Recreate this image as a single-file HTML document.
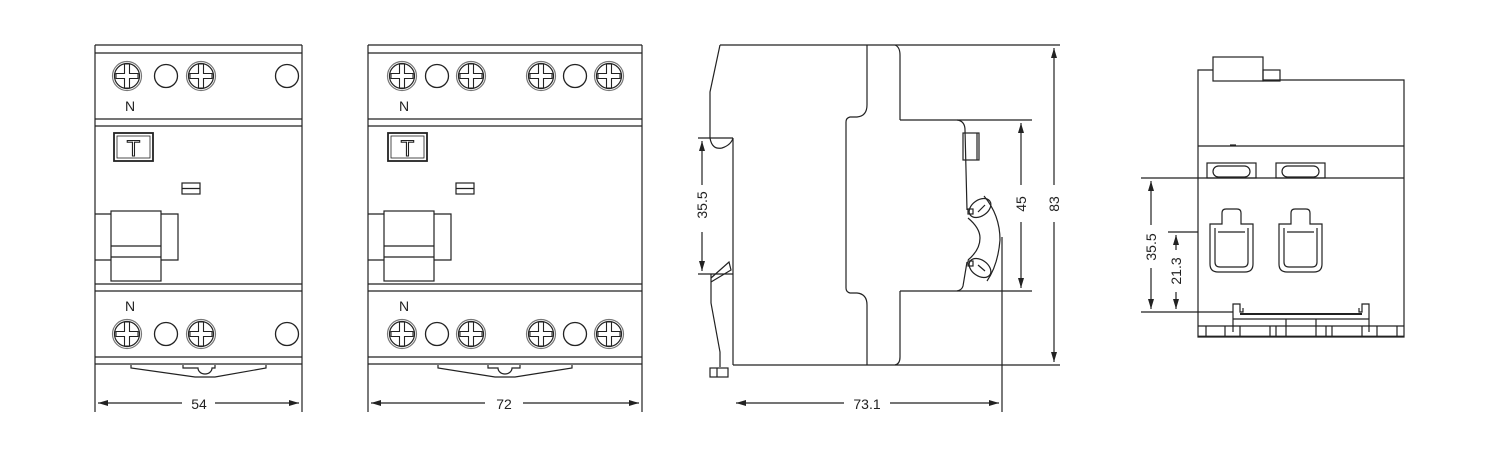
<!DOCTYPE html>
<html><head><meta charset="utf-8"><style>
html,body{margin:0;padding:0;background:#fff;}
svg{display:block;}
text{font-family:"Liberation Sans","DejaVu Sans",sans-serif;fill:#222;}
</style></head><body>
<svg width="1500" height="465" viewBox="0 0 1500 465" xmlns="http://www.w3.org/2000/svg">
<defs>
<g id="sc">
 <circle r="14.5" fill="none" stroke="#777" stroke-width="1.2"/>
 <circle r="12.5" fill="none" stroke="#222" stroke-width="1.2"/>
 <path d="M-2.5,-12 L2.5,-12 L2.5,-2.5 L11,-2.5 L11,2.5 L2.5,2.5 L2.5,12 L-2.5,12 L-2.5,2.5 L-11,2.5 L-11,-2.5 L-2.5,-2.5 Z" fill="#fff" stroke="#222" stroke-width="1.1"/>
</g>
<g id="pc"><circle r="11.5" fill="none" stroke="#222" stroke-width="1.3"/></g>
<marker id="ar" viewBox="0 0 10 6" refX="10" refY="3" markerWidth="10" markerHeight="6" orient="auto-start-reverse" markerUnits="userSpaceOnUse"><path d="M0,0 L10,3 L0,6 Z" fill="#222"/></marker>
</defs>
<g fill="none" stroke="#222" stroke-width="1.2">
<!-- FRONT VIEW 1 -->
<line x1="95" y1="45" x2="302" y2="45"/>
<line x1="95" y1="53" x2="302" y2="53"/>
<line x1="95" y1="45" x2="95" y2="412"/>
<line x1="302" y1="45" x2="302" y2="412"/>
<line x1="95" y1="119" x2="302" y2="119"/>
<line x1="95" y1="126" x2="302" y2="126"/>
<line x1="95" y1="284" x2="302" y2="284"/>
<line x1="95" y1="291" x2="302" y2="291"/>
<line x1="95" y1="357" x2="302" y2="357"/>
<line x1="95" y1="364" x2="302" y2="364"/>
<rect x="114" y="133" width="39" height="28" stroke-width="1.8"/>
<rect x="117" y="136" width="33" height="22" stroke-width="0.8"/>
<rect x="182" y="183" width="18" height="11"/>
<line x1="182" y1="188.5" x2="200" y2="188.5"/>
<polyline points="95,214 178,214 178,260 95,260"/>
<rect x="111" y="211" width="50" height="70" fill="#fff"/>
<line x1="111" y1="246" x2="161" y2="246"/>
<line x1="111" y1="257" x2="161" y2="257"/>
<polyline points="131,365 131,368 195,377 215,377 266,368 266,365"/>
<path d="M183,365 L183,368 L198,368 A7,6 0 0 0 212,368 L215,368 L215,365"/>
<line x1="98" y1="403" x2="182" y2="403" marker-start="url(#ar)"/>
<line x1="215" y1="403" x2="299" y2="403" marker-end="url(#ar)"/>

<!-- FRONT VIEW 2 -->
<line x1="368" y1="45" x2="642" y2="45"/>
<line x1="368" y1="53" x2="642" y2="53"/>
<line x1="368" y1="45" x2="368" y2="412"/>
<line x1="642" y1="45" x2="642" y2="412"/>
<line x1="368" y1="119" x2="642" y2="119"/>
<line x1="368" y1="126" x2="642" y2="126"/>
<line x1="368" y1="284" x2="642" y2="284"/>
<line x1="368" y1="291" x2="642" y2="291"/>
<line x1="368" y1="357" x2="642" y2="357"/>
<line x1="368" y1="364" x2="642" y2="364"/>
<rect x="388" y="133" width="39" height="28" stroke-width="1.8"/>
<rect x="391" y="136" width="33" height="22" stroke-width="0.8"/>
<rect x="456" y="183" width="18" height="11"/>
<line x1="456" y1="188.5" x2="474" y2="188.5"/>
<polyline points="368,214 451,214 451,260 368,260"/>
<rect x="384" y="211" width="50" height="70" fill="#fff"/>
<line x1="384" y1="246" x2="434" y2="246"/>
<line x1="384" y1="257" x2="434" y2="257"/>
<polyline points="438,365 438,368 495,377 515,377 572,368 572,365"/>
<path d="M488,365 L488,368 L498,368 A7,6 0 0 0 512,368 L520,368 L520,365"/>
<line x1="371" y1="403" x2="485" y2="403" marker-start="url(#ar)"/>
<line x1="523" y1="403" x2="639" y2="403" marker-end="url(#ar)"/>

<!-- SIDE VIEW -->
<line x1="720" y1="45" x2="1060" y2="45"/>
<polyline points="720,45 710,92 710,138"/>
<path d="M710,138 Q712,150 722,148 Q731,145 733,138"/>
<line x1="698" y1="138" x2="733" y2="138"/>
<line x1="733" y1="138" x2="733" y2="365"/>
<line x1="698" y1="274" x2="733" y2="274"/>
<polyline points="711,278 729,262 731,270 711,282"/>
<polyline points="711,274 711,303 720,352 720,367"/>
<rect x="710" y="368" width="18" height="9"/>
<line x1="717" y1="368" x2="717" y2="377"/>
<line x1="733" y1="365" x2="1060" y2="365"/>
<line x1="867" y1="45" x2="867" y2="105"/>
<path d="M867,105 Q867,116 857,117 L850,117 Q846,118 846,122 L846,288 Q846,292 850,293 L857,293 Q867,294 867,305"/>
<line x1="867" y1="305" x2="867" y2="365"/>
<path d="M895,45 Q900,47 900,55 L900,120"/>
<line x1="900" y1="120" x2="1032" y2="120"/>
<line x1="900" y1="291" x2="1032" y2="291"/>
<path d="M900,291 L900,357 Q900,364 895,365"/>
<path d="M957,120 Q965,121 965,130 L967,210"/>
<path d="M967,262 L963,286 Q962,290 957,291"/>
<rect x="963" y="133" width="16" height="27"/>
<line x1="977" y1="133" x2="977" y2="160"/>
<path d="M968,218 Q980,228 980,238 Q980,250 968,260"/>
<ellipse cx="980" cy="208" rx="12" ry="8" transform="rotate(-35 980 208)"/>
<ellipse cx="980" cy="268" rx="12" ry="8" transform="rotate(35 980 268)"/>
<rect x="968" y="209" width="5" height="5"/>
<rect x="968" y="261" width="5" height="5"/>
<line x1="978" y1="212" x2="985" y2="205"/>
<line x1="978" y1="265" x2="985" y2="271"/>
<path d="M984,196 Q1000,215 1000,240 Q998,265 987,281"/>
<line x1="1002" y1="237" x2="1002" y2="412"/>
<line x1="736" y1="403" x2="844" y2="403" marker-start="url(#ar)"/>
<line x1="890" y1="403" x2="999" y2="403" marker-end="url(#ar)"/>
<line x1="702" y1="141" x2="702" y2="185" marker-start="url(#ar)"/>
<line x1="702" y1="232" x2="702" y2="271" marker-end="url(#ar)"/>
<line x1="1021" y1="123" x2="1021" y2="185" marker-start="url(#ar)"/>
<line x1="1021" y1="222" x2="1021" y2="288" marker-end="url(#ar)"/>
<line x1="1054" y1="48" x2="1054" y2="185" marker-start="url(#ar)"/>
<line x1="1054" y1="222" x2="1054" y2="362" marker-end="url(#ar)"/>

<!-- RIGHT VIEW -->
<rect x="1213" y="57" width="50" height="24"/>
<rect x="1263" y="70" width="17" height="11"/>
<polyline points="1213,70 1198,70 1198,337 1404,337 1404,80 1263,80"/>
<line x1="1198" y1="146" x2="1404" y2="146"/>
<line x1="1141" y1="178" x2="1404" y2="178"/>
<line x1="1230" y1="145" x2="1236" y2="145"/>
<rect x="1207" y="163" width="49" height="15"/>
<rect x="1213" y="166" width="37" height="11" rx="5.5"/>
<rect x="1276" y="163" width="49" height="15"/>
<rect x="1282" y="166" width="37" height="11" rx="5.5"/>
<path d="M1210,224 L1210,264 Q1210,272 1218,272 L1245,272 Q1253,272 1253,264 L1253,224 L1241,224 L1241,213 Q1241,209 1237,209 L1226,209 Q1222,209 1222,213 L1222,224 Z"/>
<path d="M1215,228 L1215,262 Q1215,267 1220,267 L1243,267 Q1248,267 1248,262 L1248,228"/>
<line x1="1218" y1="232" x2="1245" y2="232"/>
<path d="M1279,224 L1279,264 Q1279,272 1287,272 L1314,272 Q1322,272 1322,264 L1322,224 L1310,224 L1310,213 Q1310,209 1306,209 L1295,209 Q1291,209 1291,213 L1291,224 Z"/>
<path d="M1284,228 L1284,262 Q1284,267 1289,267 L1312,267 Q1317,267 1317,262 L1317,228"/>
<line x1="1287" y1="232" x2="1314" y2="232"/>
<line x1="1168" y1="232" x2="1198" y2="232"/>
<line x1="1141" y1="312" x2="1233" y2="312"/>
<polyline points="1233,332 1233,304 1240,304 1240,312 1243,312 1243,308"/>
<polyline points="1369,332 1369,304 1362,304 1362,312 1359,312 1359,308"/>
<line x1="1240" y1="314" x2="1362" y2="314" stroke-width="2"/>
<line x1="1233" y1="319" x2="1369" y2="319"/>
<line x1="1198" y1="326" x2="1404" y2="326"/>
<line x1="1198" y1="336.5" x2="1404" y2="336.5" stroke-width="1.8"/>
<line x1="1286" y1="319" x2="1286" y2="337"/>
<line x1="1316" y1="319" x2="1316" y2="337"/>
<line x1="1206" y1="326" x2="1206" y2="337"/>
<line x1="1225" y1="326" x2="1225" y2="337"/>
<line x1="1240" y1="326" x2="1240" y2="337"/>
<line x1="1270" y1="326" x2="1270" y2="337"/>
<line x1="1276" y1="326" x2="1276" y2="337"/>
<line x1="1326" y1="326" x2="1326" y2="337"/>
<line x1="1332" y1="326" x2="1332" y2="337"/>
<line x1="1362" y1="326" x2="1362" y2="337"/>
<line x1="1377" y1="326" x2="1377" y2="337"/>
<line x1="1397" y1="326" x2="1397" y2="337"/>
<line x1="1151" y1="181" x2="1151" y2="225" marker-start="url(#ar)"/>
<line x1="1151" y1="268" x2="1151" y2="309" marker-end="url(#ar)"/>
<line x1="1176" y1="235" x2="1176" y2="250" marker-start="url(#ar)"/>
<line x1="1176" y1="292" x2="1176" y2="309" marker-end="url(#ar)"/>
</g>
<!-- screws -->
<use href="#sc" x="127" y="76"/><use href="#pc" x="166" y="76"/><use href="#sc" x="201" y="76"/><use href="#pc" x="287" y="76"/>
<use href="#sc" x="127" y="334"/><use href="#pc" x="166" y="334"/><use href="#sc" x="201" y="334"/><use href="#pc" x="287" y="334"/>
<use href="#sc" x="402" y="76"/><use href="#pc" x="437" y="76"/><use href="#sc" x="471" y="76"/><use href="#sc" x="541" y="76"/><use href="#pc" x="575" y="76"/><use href="#sc" x="609" y="76"/>
<use href="#sc" x="402" y="334"/><use href="#pc" x="437" y="334"/><use href="#sc" x="471" y="334"/><use href="#sc" x="541" y="334"/><use href="#pc" x="575" y="334"/><use href="#sc" x="609" y="334"/>
<!-- labels -->
<text x="130" y="111" font-size="14" text-anchor="middle">N</text>
<text x="130" y="311" font-size="14" text-anchor="middle">N</text>
<text x="404" y="111" font-size="14" text-anchor="middle">N</text>
<text x="404" y="311" font-size="14" text-anchor="middle">N</text>
<text x="133.5" y="156" font-size="22" text-anchor="middle" style="fill:#fff;stroke:#222;stroke-width:1.1">T</text>
<text x="407.5" y="156" font-size="22" text-anchor="middle" style="fill:#fff;stroke:#222;stroke-width:1.1">T</text>
<text x="199" y="409" font-size="14" text-anchor="middle">54</text>
<text x="504" y="409" font-size="14" text-anchor="middle">72</text>
<text x="867" y="409" font-size="14" text-anchor="middle">73.1</text>
<text transform="translate(707,205) rotate(-90)" font-size="14" text-anchor="middle">35.5</text>
<text transform="translate(1026,204) rotate(-90)" font-size="14" text-anchor="middle">45</text>
<text transform="translate(1059,204) rotate(-90)" font-size="14" text-anchor="middle">83</text>
<text transform="translate(1156,247) rotate(-90)" font-size="14" text-anchor="middle">35.5</text>
<text transform="translate(1181,271) rotate(-90)" font-size="14" text-anchor="middle">21.3</text>
</svg>
</body></html>
